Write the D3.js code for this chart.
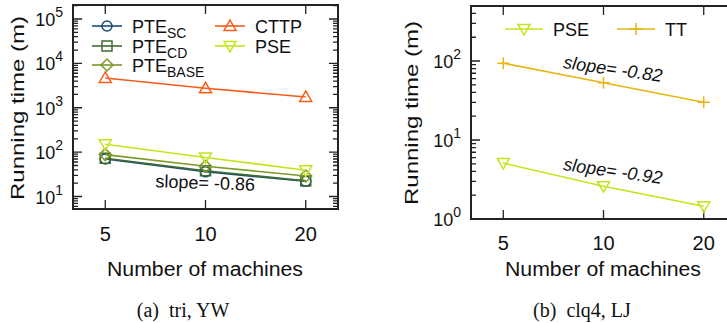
<!DOCTYPE html>
<html>
<head>
<meta charset="utf-8">
<script src="https://cdn.jsdelivr.net/npm/d3@7"></script>
<style>
  body { margin: 0; background: #fff; }
  svg { display: block; font-family: "Liberation Sans", Arial, sans-serif; }
</style>
</head>
<body>
<div id="wrapper"></div>
<script>
// data
const machines = [5, 10, 20];
const xTicks = [5, 10, 20];

// (a) tri, YW
const pteSC = [70, 36, 22];
const pteCD = [73, 38, 22.5];
const pteBase = [88, 48, 29];
const cttp = [4700, 2750, 1750];
const pseTri = [150, 76, 39];

// (b) clq4, LJ
const pseClq = [5.1, 2.6, 1.45];
const tt = [94, 53, 30];

const leftTicks = [10, 100, 1000, 10000, 100000];
const rightTicks = [1, 10, 100];

const colors = {
  sc: "#1d4b73",
  cd: "#3f6b34",
  base: "#7c9a26",
  cttp: "#fa5c17",
  pse: "#c4e41a",
  tt: "#e9b415"
};

const width = 727, height = 323;

const svg = d3.select("#wrapper")
  .append("svg")
  .attr("width", width)
  .attr("height", height);

function markerPath(type) {
  switch (type) {
    case "circle": return d3.symbol(d3.symbolCircle, 80)();
    case "square": return "M-5,-5H5V5H-5Z";
    case "diamond": return "M0,-6L6,0L0,6L-6,0Z";
    case "up": return "M0,-6L6,4.5H-6Z";
    case "down": return "M0,6L6,-4.5H-6Z";
    case "plus": return "M-6,0H6M0,-6V6";
  }
}

function drawPanel(cfg) {
  const g = svg.append("g");
  const xScale = d3.scaleLog().base(2)
    .domain([4, 25])
    .range([cfg.left, cfg.right]);
  const yScale = d3.scaleLog()
    .domain(cfg.yDomain)
    .range([cfg.bottom, cfg.top]);

  // minor + major ticks on left and right, inward
  const [y0, y1] = cfg.yDomain;
  const minor = [];
  for (let p = Math.floor(Math.log10(y0)); p <= Math.ceil(Math.log10(y1)); p++) {
    for (let k = 1; k < 10; k++) {
      const v = k * Math.pow(10, p);
      if (v >= y0 && v <= y1) minor.push({ v, major: k === 1 });
    }
  }
  g.selectAll(".ytick")
    .data(minor)
    .enter()
    .append("path")
    .attr("d", d => {
      const y = yScale(d.v), len = d.major ? 9 : 5;
      return `M${cfg.left},${y}h${len}M${cfg.right},${y}h${-len}`;
    })
    .attr("stroke", "#222")
    .attr("stroke-width", 1.3);

  g.selectAll(".xtick")
    .data(xTicks)
    .enter()
    .append("path")
    .attr("d", d => {
      const x = xScale(d);
      return `M${x},${cfg.bottom}v-9M${x},${cfg.top}v9`;
    })
    .attr("stroke", "#222")
    .attr("stroke-width", 1.3);

  g.append("rect")
    .attr("x", cfg.left)
    .attr("y", cfg.top)
    .attr("width", cfg.right - cfg.left)
    .attr("height", cfg.bottom - cfg.top)
    .attr("fill", "none")
    .attr("stroke", "#222")
    .attr("stroke-width", 2);

  // y tick labels 10^n
  const yl = g.selectAll(".ylab")
    .data(cfg.yTicks)
    .enter()
    .append("text")
    .attr("x", cfg.left - 10)
    .attr("y", d => yScale(d) + 7)
    .attr("text-anchor", "end")
    .attr("font-size", 18)
    .attr("fill", "#111");
  yl.append("tspan").text("10");
  yl.append("tspan")
    .attr("dy", -9)
    .attr("font-size", 14)
    .text(d => Math.round(Math.log10(d)));

  g.selectAll(".xlab")
    .data(xTicks)
    .enter()
    .append("text")
    .attr("x", d => xScale(d))
    .attr("y", cfg.xTickY)
    .attr("text-anchor", "middle")
    .attr("font-size", 20)
    .attr("fill", "#111")
    .text(d => d);

  g.append("text")
    .attr("x", cfg.xLabelX)
    .attr("y", 276)
    .attr("text-anchor", "middle")
    .attr("font-size", 20)
    .attr("textLength", 196)
    .attr("lengthAdjust", "spacingAndGlyphs")
    .attr("fill", "#111")
    .text("Number of machines");

  g.append("text")
    .attr("transform", `translate(${cfg.yLabelX},${cfg.yLabelY}) rotate(-90)`)
    .attr("text-anchor", "middle")
    .attr("font-size", 19)
    .attr("textLength", 184)
    .attr("lengthAdjust", "spacingAndGlyphs")
    .attr("fill", "#111")
    .text("Running time (m)");

  g.append("text")
    .attr("x", cfg.captionX)
    .attr("y", 317)
    .attr("text-anchor", "middle")
    .attr("font-family", "'Liberation Serif', 'Times New Roman', serif")
    .attr("font-size", 20)
    .attr("fill", "#111")
    .text(cfg.caption);

  // series
  const line = d3.line()
    .x((d, i) => xScale(machines[i]))
    .y(d => yScale(d));

  cfg.series.forEach(s => {
    g.append("path")
      .datum(s.values)
      .attr("d", line)
      .attr("fill", "none")
      .attr("stroke", s.color)
      .attr("stroke-width", 1.6);
    g.selectAll(null)
      .data(s.values)
      .enter()
      .append("path")
      .attr("transform", (d, i) => `translate(${xScale(machines[i])},${yScale(d)})`)
      .attr("d", markerPath(s.marker))
      .attr("fill", "none")
      .attr("stroke", s.color)
      .attr("stroke-width", 1.5);
  });

  // legend
  cfg.series.forEach(s => {
    const lg = g.append("g").attr("transform", `translate(${s.lx},${s.ly})`);
    lg.append("path")
      .attr("d", `M0,0H${s.lw}`)
      .attr("stroke", s.color)
      .attr("stroke-width", 1.6);
    lg.append("path")
      .attr("transform", `translate(${s.lw / 2},0)`)
      .attr("d", markerPath(s.marker))
      .attr("fill", "none")
      .attr("stroke", s.color)
      .attr("stroke-width", 1.5);
    const t = lg.append("text")
      .attr("x", s.lw + 10)
      .attr("y", 6.5)
      .attr("font-size", 18)
      .attr("fill", "#111");
    t.append("tspan").text(s.name);
    if (s.sub) {
      t.append("tspan").attr("dy", 5).attr("font-size", 14).text(s.sub);
    }
  });

  cfg.slopes.forEach(sl => {
    g.append("text")
      .attr("transform", `translate(${sl.x},${sl.y}) rotate(${sl.angle})`)
      .attr("text-anchor", "middle")
      .attr("font-size", 18)
      .attr("font-style", sl.italic ? "italic" : "normal")
      .attr("fill", "#111")
      .text(sl.text);
  });
}

drawPanel({
  left: 73, right: 338, top: 5, bottom: 209,
  yDomain: [5.23, 2.07e5],
  yTicks: leftTicks,
  xTickY: 241,
  xLabelX: 205,
  yLabelX: 24, yLabelY: 108,
  captionX: 183,
  caption: "(a)\u2002tri, YW",
  series: [
    { name: "PTE", sub: "SC", values: pteSC, color: colors.sc, marker: "circle", lx: 92, ly: 26, lw: 30 },
    { name: "PTE", sub: "CD", values: pteCD, color: colors.cd, marker: "square", lx: 92, ly: 46, lw: 30 },
    { name: "PTE", sub: "BASE", values: pteBase, color: colors.base, marker: "diamond", lx: 92, ly: 65, lw: 30 },
    { name: "CTTP", values: cttp, color: colors.cttp, marker: "up", lx: 215, ly: 26, lw: 30 },
    { name: "PSE", values: pseTri, color: colors.pse, marker: "down", lx: 215, ly: 46, lw: 30 }
  ],
  slopes: [{ text: "slope= -0.86", x: 205, y: 189, angle: 2, italic: false }]
});

drawPanel({
  left: 471, right: 736, top: 6, bottom: 219,
  yDomain: [1, 497],
  yTicks: rightTicks,
  xTickY: 250,
  xLabelX: 603,
  yLabelX: 418, yLabelY: 113,
  captionX: 582,
  caption: "(b)\u2002clq4, LJ",
  series: [
    { name: "PSE", values: pseClq, color: colors.pse, marker: "down", lx: 505, ly: 29, lw: 38 },
    { name: "TT", values: tt, color: colors.tt, marker: "plus", lx: 617, ly: 29, lw: 38 }
  ],
  slopes: [
    { text: "slope= -0.82", x: 612, y: 75, angle: 8, italic: true },
    { text: "slope= -0.92", x: 612, y: 177, angle: 8, italic: true }
  ]
});
</script>
</body>
</html>
